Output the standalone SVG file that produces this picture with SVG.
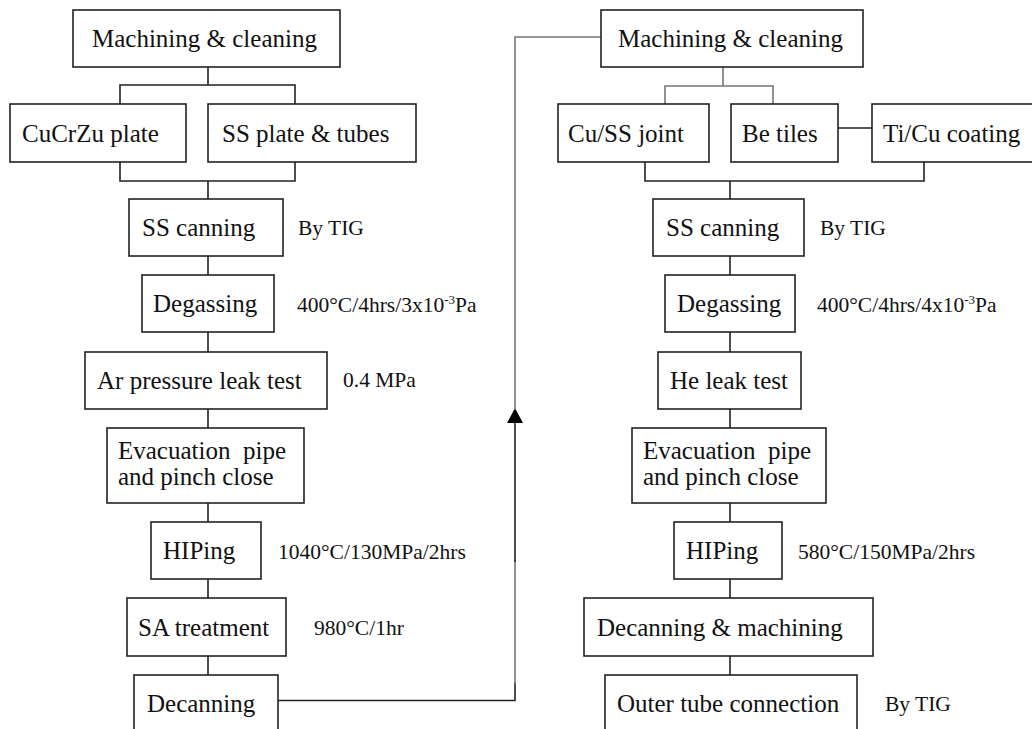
<svg xmlns="http://www.w3.org/2000/svg" width="1032" height="729" viewBox="0 0 1032 729">
<defs>
<style>
rect.b{fill:#fff;stroke:#222;stroke-width:1.6}
text{font-family:"Liberation Serif","Times New Roman",serif;fill:#111}
.t{font-family:"Liberation Serif","Times New Roman",serif;font-size:25px}
.l{font-family:"Liberation Serif","Times New Roman",serif;font-size:21.5px}
.c{fill:none;stroke:#222;stroke-width:1.6}
.g{fill:none;stroke:#777;stroke-width:1.6}
</style>
</defs>
<rect width="1032" height="729" fill="#fff"/>

<g id="connectors">
<path class="c" d="M208,67 V85 M120,104 V85 H295 V104"/>
<path class="c" d="M120,162 V181 H295 V162 M208,181 V199"/>
<path class="c" d="M208,256 V275 M208,332 V352 M208,409 V428 M208,503 V522 M208,579 V598 M208,656 V675"/>
<path class="c" d="M278,700.5 H515 V682"/>
<path class="g" d="M515,684 V560"/>
<path class="c" d="M515,562 V420" stroke-width="2"/>
<path d="M507,423 L515,408 L523,423 Z" fill="#000"/>
<path class="g" d="M515,410 V37 H601"/>
<path class="g" d="M723,67 V86 M665,104 V86 H773 V104"/>
<path class="c" d="M838,128 H872"/>
<path class="c" d="M645,162 V181 H924 V162 M730,181 V199"/>
<path class="c" d="M730,256 V275 M730,332 V352 M730,409 V428 M730,503 V522 M730,579 V598 M730,656 V675"/>
</g>

<g id="L-machining"><rect class="b" x="73" y="10" width="267" height="57"/><text class="t" x="92" y="47">Machining &amp; cleaning</text></g>
<g id="L-cucrzu"><rect class="b" x="10" y="104" width="176" height="58"/><text class="t" x="22" y="142">CuCrZu plate</text></g>
<g id="L-ssplate"><rect class="b" x="208" y="104" width="208" height="58"/><text class="t" x="222" y="142">SS plate &amp; tubes</text></g>
<g id="L-canning"><rect class="b" x="129" y="199" width="154" height="57"/><text class="t" x="142" y="236">SS canning</text></g>
<g id="L-degassing"><rect class="b" x="142" y="275" width="132" height="57"/><text class="t" x="153" y="312">Degassing</text></g>
<g id="L-leak"><rect class="b" x="85" y="352" width="242" height="57"/><text class="t" x="97" y="389">Ar pressure leak test</text></g>
<g id="L-evac"><rect class="b" x="107" y="428" width="197" height="75"/><text class="t" x="118" y="459" xml:space="preserve">Evacuation  pipe</text><text class="t" x="118" y="485">and pinch close</text></g>
<g id="L-hiping"><rect class="b" x="151" y="522" width="110" height="57"/><text class="t" x="163" y="559">HIPing</text></g>
<g id="L-sa"><rect class="b" x="127" y="598" width="159" height="58"/><text class="t" x="138" y="636">SA treatment</text></g>
<g id="L-decanning"><rect class="b" x="134" y="675" width="144" height="70"/><text class="t" x="147" y="712">Decanning</text></g>

<g id="L-labels">
<text class="l" x="298" y="235">By TIG</text>
<text class="l" x="297" y="312">400°C/4hrs/3x10<tspan font-size="13" dy="-8">-3</tspan><tspan dy="8">Pa</tspan></text>
<text class="l" x="343" y="387">0.4 MPa</text>
<text class="l" x="278" y="559">1040°C/130MPa/2hrs</text>
<text class="l" x="314" y="635">980°C/1hr</text>
</g>

<g id="R-machining"><rect class="b" x="601" y="10" width="262" height="57"/><text class="t" x="618" y="47">Machining &amp; cleaning</text></g>
<g id="R-cuss"><rect class="b" x="558" y="104" width="151" height="58"/><text class="t" x="568" y="142">Cu/SS joint</text></g>
<g id="R-be"><rect class="b" x="731" y="104" width="107" height="58"/><text class="t" x="742" y="142">Be tiles</text></g>
<g id="R-ticu"><rect class="b" x="872" y="104" width="170" height="58"/><text class="t" x="883" y="142">Ti/Cu coating</text></g>
<g id="R-canning"><rect class="b" x="653" y="199" width="151" height="57"/><text class="t" x="666" y="236">SS canning</text></g>
<g id="R-degassing"><rect class="b" x="665" y="275" width="130" height="57"/><text class="t" x="677" y="312">Degassing</text></g>
<g id="R-heleak"><rect class="b" x="658" y="352" width="143" height="57"/><text class="t" x="670" y="389">He leak test</text></g>
<g id="R-evac"><rect class="b" x="632" y="428" width="194" height="75"/><text class="t" x="643" y="459" xml:space="preserve">Evacuation  pipe</text><text class="t" x="643" y="485">and pinch close</text></g>
<g id="R-hiping"><rect class="b" x="674" y="522" width="108" height="57"/><text class="t" x="686" y="559">HIPing</text></g>
<g id="R-decanning"><rect class="b" x="584" y="598" width="289" height="58"/><text class="t" x="597" y="636">Decanning &amp; machining</text></g>
<g id="R-outer"><rect class="b" x="605" y="675" width="252" height="70"/><text class="t" x="617" y="712">Outer tube connection</text></g>

<g id="R-labels">
<text class="l" x="820" y="235">By TIG</text>
<text class="l" x="817" y="312">400°C/4hrs/4x10<tspan font-size="13" dy="-8">-3</tspan><tspan dy="8">Pa</tspan></text>
<text class="l" x="798" y="559">580°C/150MPa/2hrs</text>
<text class="l" x="885" y="711">By TIG</text>
</g>
</svg>
